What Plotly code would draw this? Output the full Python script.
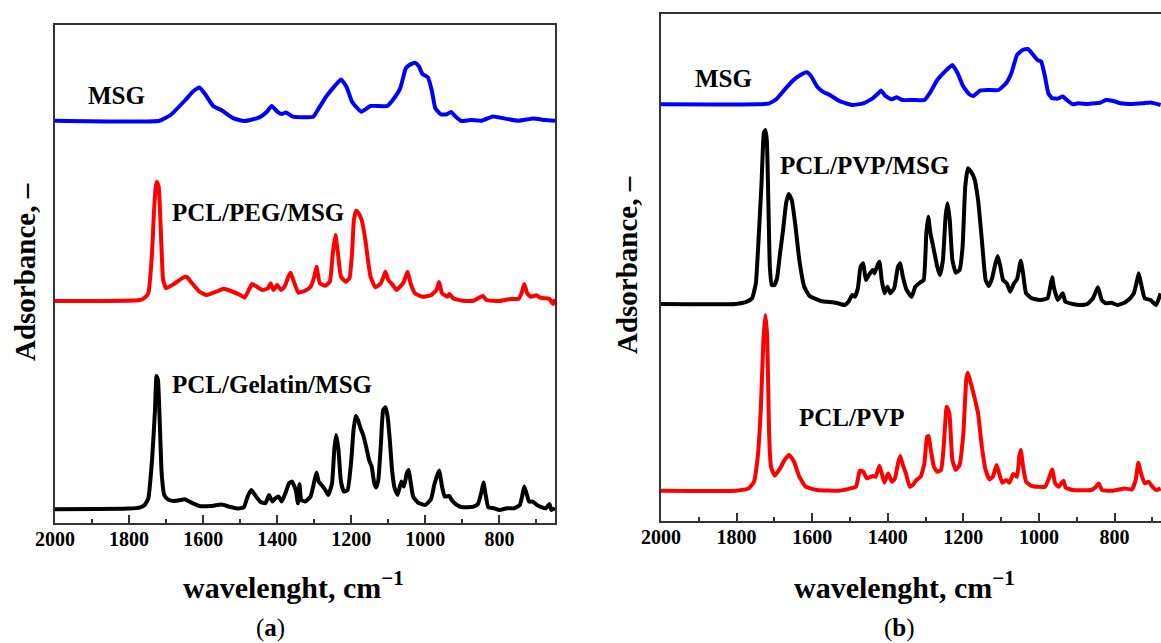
import plotly.graph_objects as go

# ---------------- data (wavenumber, cm-1 ; absorbance above baseline, a.u.) ----------------
# Panel (a)
msg_a_wn = [2000, 1718, 1688, 1648, 1628, 1610, 1593, 1573, 1548, 1518, 1488, 1448, 1428, 1415, 1400, 1388,
            1376, 1358, 1303, 1288, 1268, 1248, 1228, 1213, 1198, 1173, 1148, 1103, 1088, 1068, 1053, 1043,
            1028, 1018, 1008, 993, 983, 973, 958, 943, 931, 918, 903, 878, 848, 818, 788, 748, 708, 678, 650]
msg_a_abs = [0, 0, 0.057, 0.207, 0.29, 0.333, 0.257, 0.147, 0.1, 0.023, -0.003, 0.033, 0.09, 0.147, 0.09, 0.067,
             0.083, 0.04, 0.04, 0.123, 0.24, 0.333, 0.413, 0.34, 0.19, 0.09, 0.147, 0.147, 0.207, 0.323, 0.523, 0.557,
             0.58, 0.547, 0.467, 0.433, 0.307, 0.123, 0.063, 0.063, 0.087, 0.04, -0.003, 0.007, 0, 0.043, 0.023, 0,
             0.023, 0.007, 0]
msg_a_offset = 4.023

peg_wn = [2000, 1770, 1758, 1748, 1738, 1733, 1728, 1725, 1720, 1714, 1708, 1700, 1680, 1655, 1645, 1630, 1610,
          1590, 1560, 1545, 1525, 1500, 1488, 1478, 1468, 1455, 1440, 1425, 1418, 1410, 1400, 1390, 1380, 1370,
          1364, 1355, 1343, 1325, 1310, 1300, 1294, 1285, 1270, 1258, 1250, 1243, 1236, 1228, 1215, 1205, 1198,
          1193, 1187, 1180, 1172, 1162, 1155, 1148, 1135, 1120, 1113, 1108, 1100, 1088, 1078, 1068, 1058, 1048,
          1040, 1028, 1008, 985, 970, 963, 955, 940, 935, 925, 900, 870, 845, 835, 800, 770, 748, 740, 733, 725,
          715, 700, 690, 675, 665, 660, 655, 650]
peg_abs = [0, 0.01, 0.033, 0.077, 0.477, 0.877, 1.143, 1.193, 1.143, 0.677, 0.21, 0.127, 0.167, 0.233, 0.243,
           0.177, 0.093, 0.06, 0.1, 0.123, 0.1, 0.06, 0.033, 0.1, 0.17, 0.143, 0.11, 0.127, 0.177, 0.11, 0.16,
           0.11, 0.143, 0.243, 0.283, 0.193, 0.083, 0.103, 0.143, 0.243, 0.343, 0.177, 0.153, 0.193, 0.477, 0.66,
           0.477, 0.243, 0.193, 0.227, 0.477, 0.81, 0.903, 0.877, 0.81, 0.61, 0.41, 0.243, 0.137, 0.177, 0.243,
           0.293, 0.21, 0.16, 0.11, 0.143, 0.193, 0.293, 0.177, 0.077, 0.043, 0.057, 0.11, 0.19, 0.077, 0.043,
           0.07, 0.027, 0.003, 0.003, 0.05, 0.01, 0, 0.02, 0.023, 0.083, 0.17, 0.077, 0.043, 0.057, 0.033, 0.027,
           0.02, -0.007, -0.03, 0.02]
peg_offset = 2.22

gel_wn = [2000, 1800, 1770, 1758, 1748, 1738, 1730, 1726, 1722, 1718, 1712, 1705, 1695, 1680, 1660, 1650, 1635,
          1610, 1580, 1550, 1530, 1505, 1490, 1480, 1470, 1460, 1445, 1432, 1422, 1413, 1405, 1396, 1388, 1378,
          1368, 1360, 1350, 1344, 1340, 1335, 1325, 1310, 1300, 1294, 1288, 1280, 1270, 1262, 1252, 1246, 1241,
          1235, 1228, 1220, 1210, 1200, 1194, 1188, 1182, 1175, 1168, 1160, 1152, 1145, 1138, 1133, 1127, 1120,
          1114, 1108, 1102, 1096, 1090, 1083, 1075, 1065, 1058, 1050, 1045, 1040, 1033, 1020, 1000, 985, 975, 963,
          955, 948, 935, 928, 915, 900, 870, 858, 848, 843, 838, 830, 815, 800, 780, 760, 745, 738, 733, 727, 720,
          710, 700, 690, 675, 665, 660, 650]
gel_abs = [0, 0.007, 0.02, 0.043, 0.11, 0.493, 0.993, 1.333, 1.293, 0.96, 0.36, 0.143, 0.1, 0.083, 0.093, 0.1,
           0.073, 0.033, 0.033, 0.047, 0.027, 0.007, 0.02, 0.127, 0.193, 0.143, 0.073, 0.06, 0.143, 0.077, 0.11,
           0.127, 0.077, 0.16, 0.26, 0.277, 0.193, 0.06, 0.25, 0.093, 0.077, 0.127, 0.277, 0.367, 0.277, 0.243,
           0.193, 0.143, 0.26, 0.593, 0.743, 0.61, 0.277, 0.177, 0.193, 0.493, 0.793, 0.933, 0.893, 0.81, 0.743,
           0.627, 0.493, 0.427, 0.26, 0.217, 0.293, 0.66, 0.993, 1.02, 0.927, 0.693, 0.393, 0.21, 0.143, 0.277,
           0.227, 0.36, 0.393, 0.277, 0.127, 0.067, 0.043, 0.1, 0.26, 0.387, 0.227, 0.127, 0.133, 0.087, 0.043,
           0.02, 0.027, 0.053, 0.183, 0.267, 0.16, 0.02, 0.01, -0.007, 0.01, 0.01, 0.043, 0.143, 0.227, 0.16, 0.077,
           0.077, 0.047, 0.027, 0.01, 0.053, -0.007, 0.01]
gel_offset = 0.137

# Panel (b)
msg_b_wn = [2000, 1744, 1714, 1695, 1675, 1651, 1631, 1614, 1602, 1587, 1572, 1553, 1528, 1494, 1465, 1440, 1425,
            1418, 1406, 1391, 1376, 1362, 1332, 1303, 1288, 1269, 1249, 1229, 1215, 1200, 1185, 1174, 1156, 1136,
            1107, 1087, 1073, 1058, 1043, 1029, 1017, 1004, 994, 984, 975, 965, 950, 937, 926, 911, 896, 872, 852,
            837, 823, 803, 784, 754, 725, 705, 678]
msg_b_abs = [0, 0, 0.01, 0.05, 0.137, 0.237, 0.293, 0.32, 0.277, 0.177, 0.127, 0.093, 0.033, -0.007, 0.01, 0.06,
             0.11, 0.137, 0.083, 0.05, 0.07, 0.043, 0.043, 0.043, 0.117, 0.243, 0.327, 0.393, 0.31, 0.177, 0.103,
             0.083, 0.137, 0.143, 0.143, 0.21, 0.31, 0.493, 0.543, 0.553, 0.503, 0.443, 0.427, 0.277, 0.11, 0.06,
             0.057, 0.077, 0.043, 0, 0.01, 0.003, 0.01, 0.017, 0.043, 0.033, 0.01, 0.003, 0.01, 0.017, -0.007]
msg_b_offset = 4.167

pvpmsg_wn = [2000, 1803, 1773, 1759, 1749, 1741, 1734, 1728, 1724, 1720, 1716, 1712, 1707, 1700, 1693, 1685, 1677,
             1669, 1662, 1654, 1644, 1634, 1621, 1607, 1577, 1538, 1514, 1504, 1494, 1487, 1479, 1472, 1465, 1458,
             1450, 1440, 1435, 1427, 1422, 1416, 1409, 1401, 1393, 1383, 1373, 1367, 1360, 1350, 1337, 1327, 1315,
             1305, 1298, 1293, 1287, 1278, 1269, 1262, 1254, 1247, 1242, 1236, 1229, 1220, 1210, 1202, 1195, 1188,
             1180, 1171, 1161, 1151, 1141, 1133, 1124, 1115, 1109, 1102, 1095, 1085, 1076, 1066, 1058, 1048, 1042,
             1034, 1019, 999, 977, 970, 965, 960, 950, 937, 930, 911, 891, 872, 857, 844, 834, 823, 808, 793, 774,
             759, 749, 742, 736, 730, 720, 705, 690, 678]
pvpmsg_abs = [0, 0, 0.023, 0.057, 0.207, 0.707, 1.207, 1.707, 1.74, 1.64, 1.04, 0.373, 0.19, 0.19, 0.257, 0.507,
              0.74, 1.007, 1.1, 1.04, 0.773, 0.44, 0.173, 0.08, 0.03, 0.013, -0.01, 0.023, 0.09, 0.073, 0.157, 0.373,
              0.407, 0.24, 0.29, 0.34, 0.307, 0.39, 0.423, 0.24, 0.107, 0.173, 0.107, 0.157, 0.373, 0.407, 0.273,
              0.14, 0.073, 0.173, 0.213, 0.24, 0.707, 0.873, 0.707, 0.54, 0.373, 0.29, 0.44, 0.873, 1.007, 0.84, 0.44,
              0.313, 0.34, 0.573, 1.173, 1.357, 1.323, 1.257, 1.04, 0.64, 0.24, 0.18, 0.257, 0.407, 0.48, 0.373, 0.24,
              0.207, 0.123, 0.207, 0.247, 0.433, 0.307, 0.107, 0.057, 0.04, 0.057, 0.173, 0.267, 0.157, 0.04, 0.107,
              0.023, 0, -0.01, 0, 0.057, 0.167, 0.04, 0.007, 0.013, -0.01, 0.013, 0.057, 0.107, 0.207, 0.307, 0.207,
              0.057, 0.04, -0.01, 0.107]
pvpmsg_offset = 2.17

pvp_wn = [2000, 1803, 1768, 1754, 1744, 1736, 1729, 1724, 1719, 1714, 1709, 1699, 1685, 1673, 1661, 1648, 1634,
          1617, 1587, 1528, 1499, 1484, 1474, 1465, 1455, 1440, 1432, 1422, 1416, 1409, 1399, 1389, 1381, 1373,
          1367, 1360, 1352, 1342, 1334, 1324, 1313, 1303, 1296, 1292, 1286, 1278, 1269, 1259, 1252, 1244, 1237,
          1229, 1220, 1210, 1200, 1192, 1188, 1180, 1171, 1161, 1151, 1141, 1131, 1122, 1112, 1104, 1097, 1087,
          1078, 1068, 1058, 1052, 1048, 1042, 1034, 1019, 984, 972, 965, 957, 948, 940, 935, 929, 911, 862, 849,
          842, 833, 803, 774, 754, 744, 737, 730, 720, 710, 700, 690, 678]
pvp_abs = [0, 0, 0.023, 0.09, 0.34, 0.807, 1.507, 1.757, 1.54, 0.573, 0.24, 0.15, 0.223, 0.307, 0.357, 0.29, 0.14,
           0.04, 0.007, 0, 0.023, 0.04, 0.2, 0.19, 0.123, 0.147, 0.14, 0.25, 0.173, 0.08, 0.173, 0.09, 0.123, 0.273,
           0.347, 0.257, 0.173, 0.04, 0.057, 0.107, 0.14, 0.273, 0.54, 0.547, 0.407, 0.24, 0.19, 0.207, 0.44, 0.84,
           0.773, 0.307, 0.207, 0.257, 0.573, 1.123, 1.18, 1.073, 0.94, 0.773, 0.44, 0.207, 0.113, 0.14, 0.257,
           0.157, 0.08, 0.107, 0.08, 0.167, 0.14, 0.34, 0.407, 0.24, 0.09, 0.047, 0.04, 0.14, 0.213, 0.073, 0.04,
           0.08, 0.1, 0.03, 0.007, 0.007, 0.04, 0.073, 0.007, 0, 0.023, 0.013, 0.107, 0.28, 0.173, 0.073, 0.09,
           0.04, 0.007, 0.023]
pvp_offset = 0.303

x_tick_values = [2000, 1800, 1600, 1400, 1200, 1000, 800]
x_tick_labels = ["2000", "1800", "1600", "1400", "1200", "1000", "800"]

# ---------------- figure ----------------
W, H = 1161, 643
FONT = "Liberation Serif"
AX = "#333333"

fig = go.Figure()


def add(wn, ab, off, color, xa, ya, name):
    fig.add_trace(go.Scatter(
        x=wn, y=[v + off for v in ab], mode="lines", name=name,
        line=dict(color=color, width=4, shape="spline", smoothing=0.4),
        xaxis=xa, yaxis=ya, showlegend=False, hoverinfo="skip"))


add(msg_a_wn, msg_a_abs, msg_a_offset, "#0000ff", "x", "y", "MSG")
add(peg_wn, peg_abs, peg_offset, "#ff0000", "x", "y", "PCL/PEG/MSG")
add(gel_wn, gel_abs, gel_offset, "#000000", "x", "y", "PCL/Gelatin/MSG")
add(msg_b_wn, msg_b_abs, msg_b_offset, "#0000ff", "x2", "y2", "MSG")
add(pvpmsg_wn, pvpmsg_abs, pvpmsg_offset, "#000000", "x2", "y2", "PCL/PVP/MSG")
add(pvp_wn, pvp_abs, pvp_offset, "#ff0000", "x2", "y2", "PCL/PVP")

xcommon = dict(showline=True, linecolor=AX, linewidth=1.5, mirror=True, ticks="inside", ticklen=8,
               tickwidth=1.5, tickcolor=AX, tickvals=x_tick_values, ticktext=x_tick_labels,
               minor=dict(ticks="inside", ticklen=4, tickwidth=1.5, tickcolor=AX, dtick=100, tick0=0),
               tickfont=dict(family=FONT, size=20, color="black", weight="bold"), ticklabelstandoff=-3,
               showgrid=False, zeroline=False, automargin=False)
ycommon = dict(showline=True, linecolor=AX, linewidth=1.5, ticks="", showticklabels=False,
               showgrid=False, zeroline=False, automargin=False)

fig.update_layout(
    template="none",
    width=W, height=H, margin=dict(l=0, r=0, t=0, b=0, pad=0, autoexpand=False),
    paper_bgcolor="white", plot_bgcolor="white",
    xaxis=dict(domain=[55 / W, 555 / W], range=[2000, 650], anchor="y", **xcommon),
    yaxis=dict(domain=[1 - 523 / H, 1 - 25 / H], range=[0, 4.98], anchor="x", mirror=True, **ycommon),
    xaxis2=dict(domain=[661 / W, 1.0], range=[2000, 677], anchor="y2", **xcommon),
    yaxis2=dict(domain=[1 - 521 / H, 1 - 13.5 / H], range=[0, 5.075], anchor="x2", mirror=False, **ycommon),
)

lab_font = dict(family=FONT, size=25, color="black", weight="bold")
labels = [
    ("MSG", 1916, 4.28, "x", "y"),
    ("PCL/PEG/MSG", 1690, 3.11, "x", "y"),
    ("PCL/Gelatin/MSG", 1690, 1.39, "x", "y"),
    ("MSG", 1915, 4.43, "x2", "y2"),
    ("PCL/PVP/MSG", 1690, 3.56, "x2", "y2"),
    ("PCL/PVP", 1640, 1.04, "x2", "y2"),
]
for t, x, y, xr, yr in labels:
    fig.add_annotation(text=t, x=x, y=y, xref=xr, yref=yr, xanchor="left", yanchor="middle",
                       showarrow=False, font=lab_font)

title_font = dict(family=FONT, size=30, color="black", weight="bold")
for cx in (293, 904):
    fig.add_annotation(text="wavelenght, cm<sup>\u22121</sup>", x=cx / W, y=1 - 585 / H, xref="paper",
                       yref="paper", xanchor="center", yanchor="middle", showarrow=False, font=title_font)
ytitle_font = dict(family=FONT, size=29, color="black", weight="bold")
for cx, cy in ((25, 272), (627, 265)):
    fig.add_annotation(text="Adsorbance, \u2013", x=cx / W, y=1 - cy / H, xref="paper", yref="paper",
                       xanchor="center", yanchor="middle", textangle=-90, showarrow=False, font=ytitle_font)
for t, cx in (("(<b>a</b>)", 270), ("(<b>b</b>)", 899)):
    fig.add_annotation(text=t, x=cx / W, y=1 - 628 / H, xref="paper", yref="paper", xanchor="center",
                       yanchor="middle", showarrow=False, font=dict(family=FONT, size=25, color="black"))

fig.write_html("out.html")
